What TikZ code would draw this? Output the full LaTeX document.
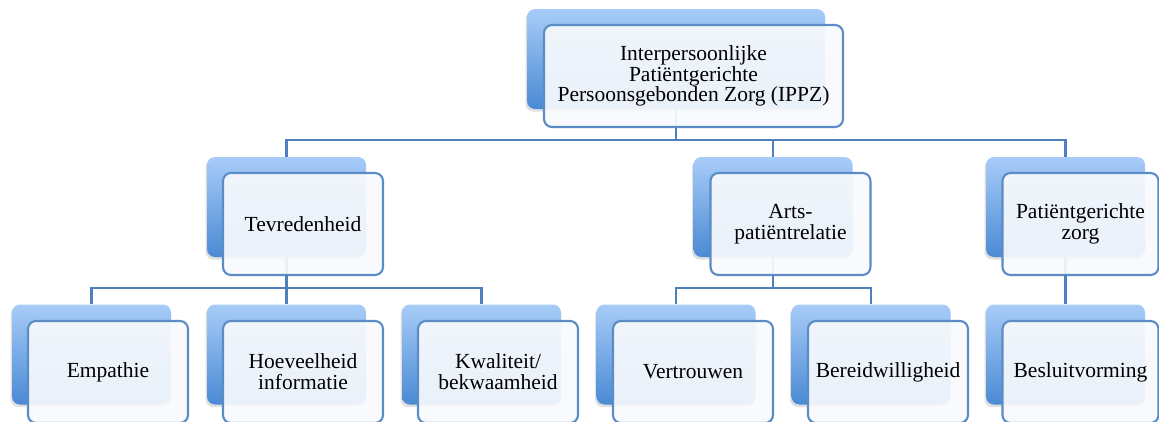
\documentclass[tikz,border=0pt]{standalone}
\usepackage{fontspec}
\setmainfont{Liberation Serif}
\usetikzlibrary{shadows}
\definecolor{cardtop}{HTML}{A8CCF8}
\definecolor{cardbot}{HTML}{4A8AD4}
\definecolor{boxline}{HTML}{5A8CC6}
\definecolor{conn}{HTML}{4E80BC}
\definecolor{boxfill}{HTML}{F8FAFD}
\tikzset{
  card/.style={rectangle, rounded corners=8pt, minimum width=159pt, minimum height=100pt,
    top color=cardtop, bottom color=cardbot, draw=none,
    drop shadow={shadow xshift=-1.5pt, shadow yshift=-2.5pt, opacity=0.25}},
  frontbox/.style={rectangle, rounded corners=8pt, minimum width=160pt, minimum height=102pt,
    draw=boxline, line width=2.1pt, fill=boxfill, fill opacity=0.92, text opacity=1,
    align=center, inner sep=2pt, font=\fontsize{21.5}{20.8}\selectfont},
  link/.style={draw=conn, line width=2.3pt}
}
\begin{document}
\begin{tikzpicture}[x=1pt,y=1pt]
\useasboundingbox[fill=white] (0,0) rectangle (1159,-421);
% back cards
\node[card, minimum width=298pt] (topb) at (676,-59) {};
\node[card] (tevb) at (286.5,-207) {};
\node[card] (artsb) at (773,-207) {};
\node[card] (patb) at (1065.5,-207) {};
\node[card] (empb) at (91.5,-354.5) {};
\node[card] (hoevb) at (286.5,-354.5) {};
\node[card] (kwalb) at (481.5,-354.5) {};
\node[card] (vertb) at (676,-354.5) {};
\node[card] (bereidb) at (871,-354.5) {};
\node[card] (besb) at (1065.5,-354.5) {};
% connectors
\draw[link] (topb.south) -- ++(0,-31) -| (tevb.north);
\draw[link] (topb.south) ++(0,-31) -| (artsb.north);
\draw[link] (topb.south) ++(0,-31) -| (patb.north);
\draw[link] (tevb.south) -- ++(0,-31) -| (empb.north);
\draw[link] (tevb.south) -- (hoevb.north);
\draw[link] (tevb.south) ++(0,-31) -| (kwalb.north);
\draw[link] (artsb.south) -- ++(0,-31) -| (vertb.north);
\draw[link] (artsb.south) ++(0,-31) -| (bereidb.north);
\draw[link] (patb.south) -- (besb.north);
% front boxes
\node[frontbox, minimum width=299pt] (top) at (693.5,-76) {Interpersoonlijke\\Patiëntgerichte\\Persoonsgebonden Zorg (IPPZ)};
\node[frontbox] (tev) at (303,-224) {Tevredenheid};
\node[frontbox] (arts) at (790.5,-224) {Arts-\\patiëntrelatie};
\node[frontbox, minimum width=156pt] (pat) at (1080.5,-224) {Patiëntgerichte\\zorg};
\node[frontbox] (emp) at (108,-372) {Empathie};
\node[frontbox] (hoev) at (303,-372) {Hoeveelheid\\informatie};
\node[frontbox] (kwal) at (498,-372) {Kwaliteit/\\bekwaamheid};
\node[frontbox] (vert) at (693,-372) {Vertrouwen};
\node[frontbox] (bereid) at (888,-372) {Bereidwilligheid};
\node[frontbox, minimum width=156pt] (bes) at (1080.5,-372) {Besluitvorming};
\end{tikzpicture}
\end{document}
